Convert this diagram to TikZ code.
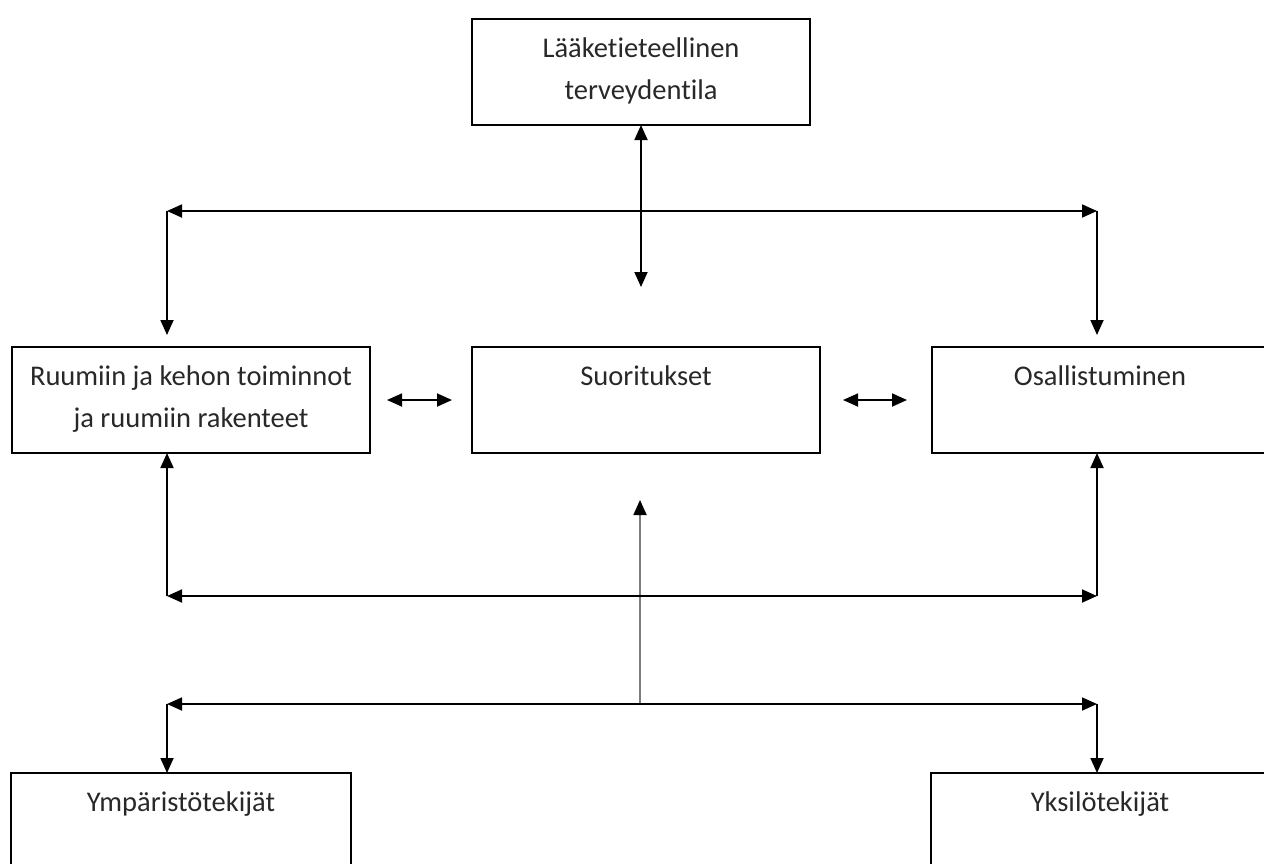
\documentclass[tikz,border=0pt]{standalone}
\usepackage{fontspec}
\setmainfont{Carlito}[Ligatures={NoCommon,NoContextual}]
\usetikzlibrary{arrows.meta}
\definecolor{inkgray}{RGB}{40,40,40}
\definecolor{stemgray}{RGB}{125,125,125}

\begin{document}
\begin{tikzpicture}[x=1pt,y=-1pt,
  box/.style={draw=black, line width=1.8pt, inner sep=0pt, outer sep=0pt, anchor=north west},
  caption/.style={anchor=north, inner sep=0pt, align=center, text=inkgray,
    font=\fontsize{28.5}{42}\selectfont, yshift=-8.6pt},
  link/.style={draw=black, line width=1.8pt, >={Triangle[length=15pt,width=13pt]}},
  stemlink/.style={draw=stemgray, line width=1.8pt,
    -{Triangle[length=15pt,width=13pt,color=black]}}]

  \useasboundingbox (0,0) rectangle (1264,863);
  \clip (0,0) rectangle (1264,863);

  % boxes (the two on the right run on past the edge of the sheet)
  \node[box, minimum width=338pt, minimum height=106pt] (med)  at (472,19)  {};
  \node[box, minimum width=358pt, minimum height=106pt] (body) at (12,347)  {};
  \node[box, minimum width=348pt, minimum height=106pt] (act)  at (472,347) {};
  \node[box, minimum width=420pt, minimum height=106pt] (part) at (932,347) {};
  \node[box, minimum width=340pt, minimum height=140pt] (env)  at (11,773)  {};
  \node[box, minimum width=420pt, minimum height=140pt] (self) at (931,773) {};

  % captions
  \node[caption] (medtxt)  at (med.north)  {\strut Lääketieteellinen\\\strut terveydentila};
  \node[caption] (bodytxt) at (body.north) {\strut Ruumiin ja kehon toiminnot\\\strut ja ruumiin rakenteet};
  \node[caption] (acttxt)  at (act.north)  {\strut Suoritukset};
  \node[caption] (parttxt) at ([xshift=168pt]part.north west) {\strut Osallistuminen};
  \node[caption] (envtxt)  at (env.north)  {\strut Ympäristötekijät};
  \node[caption] (selftxt) at ([xshift=169pt]self.north west) {\strut Yksilötekijät};

  % junction points
  \coordinate (medEnd)  at (641,287);
  \coordinate (hiL)     at (167,211);
  \coordinate (hiR)     at (1097,211);
  \coordinate (loL)     at (167,596);
  \coordinate (loR)     at (1097,596);
  \coordinate (envL)    at (167,704);
  \coordinate (envR)    at (1097,704);
  \coordinate (stem)    at (640,704);
  \coordinate (stemTop) at (640,500);

  % health condition branch
  \draw[link,<->] (med.south) -- (medEnd);
  \draw[link,<->] (hiL) -- (hiR);
  \draw[link,->,shorten >=12pt] (hiL) -- (hiL |- body.north);
  \draw[link,->,shorten >=12pt] (hiR) -- (hiR |- part.north);

  % links between the middle row
  \draw[link,<->,shorten <=17pt,shorten >=20pt] (body.east) -- (act.west);
  \draw[link,<->,shorten <=23pt,shorten >=25pt] (act.east) -- (part.west);

  % contextual factors
  \draw[stemlink] (stem) -- (stemTop);
  \draw[link,->] (loL) -- (loL |- body.south);
  \draw[link,<->] (loL) -- (loR);
  \draw[link,->] (loR) -- (loR |- part.south);
  \draw[link,<->] (envL) -- (envR);
  \draw[link,->] (envL) -- (envL |- env.north);
  \draw[link,->] (envR) -- (envR |- self.north);
\end{tikzpicture}
\end{document}
